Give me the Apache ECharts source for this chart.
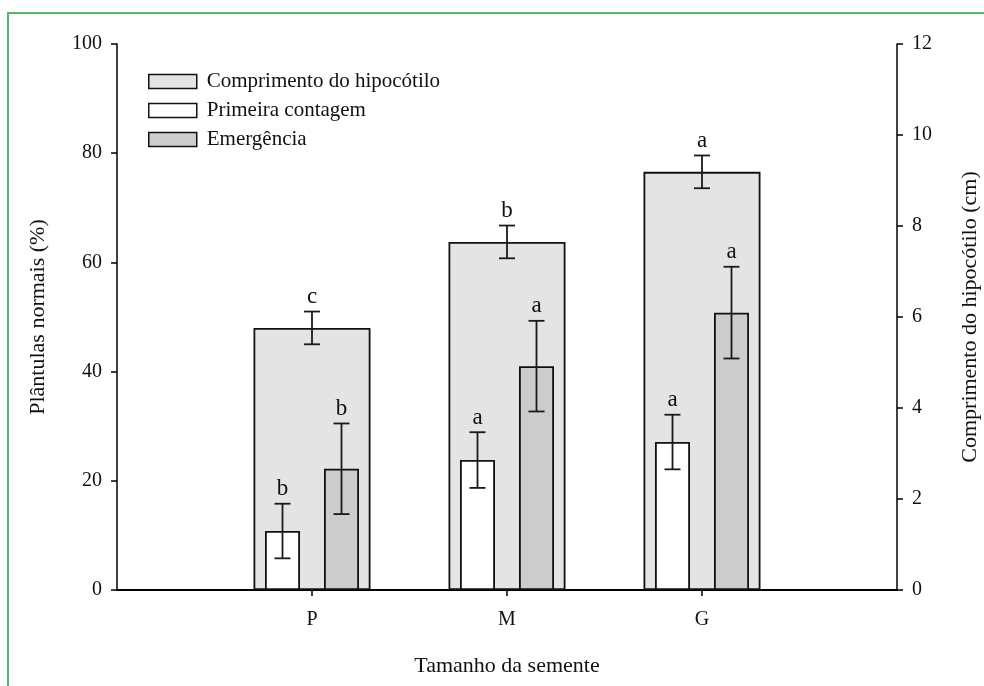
<!DOCTYPE html>
<html>
<head>
<meta charset="utf-8">
<script src="https://cdn.jsdelivr.net/npm/echarts@6/dist/echarts.min.js"></script>
<style>
html,body{margin:0;padding:0;background:#fff;}
#frame{position:absolute;left:7px;top:12px;width:977px;height:674px;border-top:2px solid #55b96c;border-left:2px solid #55b96c;}
#chart{position:absolute;left:0;top:0;width:984px;height:686px;}
</style>
</head>
<body>
<div id="frame"></div>
<div id="chart"></div>
<script>
const categories = ['', 'P', 'M', 'G', ''];
const seriesNames = ['Comprimento do hipocótilo', 'Primeira contagem', 'Emergência'];
// Comprimento do hipocótilo (cm), right axis
const hypocotyl = [null, 5.76, 7.65, 9.19, null];
const hypocotylErr = [null, 0.36, 0.36, 0.36, null];
const hypocotylLetters = ['', 'c', 'b', 'a', ''];
// Primeira contagem (%), left axis
const firstCount = [null, 10.8, 23.8, 27.1, null];
const firstCountErr = [null, 5.0, 5.1, 5.0, null];
const firstCountLetters = ['', 'b', 'a', 'a', ''];
// Emergência (%), left axis
const emergence = [null, 22.2, 41.0, 50.8, null];
const emergenceErr = [null, 8.3, 8.3, 8.4, null];
const emergenceLetters = ['', 'b', 'a', 'a', ''];
const leftTicks = {min: 0, max: 100, interval: 20};
const rightTicks = {min: 0, max: 12, interval: 2};

const FONT = '"Liberation Serif", "Times New Roman", serif';

function errData(vals, errs, letters) {
  return vals.map((v, i) => v == null ? null : [i, v, errs[i], letters[i]]).filter(d => d);
}

function errRender(offset, capW) {
  return function (params, api) {
    const i = api.value(0), v = api.value(1), e = api.value(2);
    const top = api.coord([i, v + e]);
    const bot = api.coord([i, v - e]);
    const x = top[0] + offset;
    const st = {stroke: '#1a1a1a', lineWidth: 1.8};
    return {
      type: 'group',
      children: [
        {type: 'line', shape: {x1: x, y1: top[1], x2: x, y2: bot[1]}, style: st},
        {type: 'line', shape: {x1: x - capW / 2, y1: top[1], x2: x + capW / 2, y2: top[1]}, style: st},
        {type: 'line', shape: {x1: x - capW / 2, y1: bot[1], x2: x + capW / 2, y2: bot[1]}, style: st},
        {type: 'text', style: {text: api.value(3), x: x, y: top[1] - 3, textAlign: 'center', textVerticalAlign: 'bottom',
          font: '23px ' + FONT, fill: '#111'}}
      ]
    };
  };
}

const chart = echarts.init(document.getElementById('chart'));
chart.setOption({
  animation: false,
  backgroundColor: 'transparent',
  grid: {left: 117, right: 87, top: 44, bottom: 96, containLabel: false, outerBoundsMode: 'none'},
  legend: {
    left: 148, top: 71, padding: 0, orient: 'vertical', itemWidth: 48, itemHeight: 14, itemGap: 8,
    icon: 'rect',
    data: seriesNames,
    itemStyle: {borderColor: '#111', borderWidth: 1.5},
    textStyle: {fontFamily: FONT, fontSize: 21, color: '#111', padding: [0, 0, 0, 5]},
    selectedMode: false
  },
  xAxis: [
    {type: 'category', data: categories, boundaryGap: false, position: 'bottom',
     axisLine: {lineStyle: {color: '#000', width: 2}},
     axisTick: {show: true, inside: false, length: 6, interval: function (i) { return i >= 1 && i <= 3; }, lineStyle: {color: '#000', width: 1.5}},
     axisLabel: {fontFamily: FONT, fontSize: 20, color: '#111', margin: 20, interval: 0},
     name: 'Tamanho da semente', nameLocation: 'middle', nameGap: 65,
     nameTextStyle: {fontFamily: FONT, fontSize: 22, color: '#111'},
     splitLine: {show: false}},
    {type: 'category', data: categories, boundaryGap: false, position: 'top',
     axisLine: {lineStyle: {color: '#000', width: 2}},
     axisTick: {show: false}, axisLabel: {show: false}, splitLine: {show: false}}
  ],
  yAxis: [
    {type: 'value', min: leftTicks.min, max: leftTicks.max, interval: leftTicks.interval, position: 'left',
     axisLine: {show: true, lineStyle: {color: '#000', width: 1.5}},
     axisTick: {show: true, inside: false, length: 6, lineStyle: {color: '#000', width: 1.5}},
     axisLabel: {fontFamily: FONT, fontSize: 20, color: '#111', margin: 15},
     splitLine: {show: false},
     name: 'Plântulas normais (%)', nameLocation: 'middle', nameGap: 68, nameRotate: 90,
     nameTextStyle: {fontFamily: FONT, fontSize: 22, color: '#111'}},
    {type: 'value', min: rightTicks.min, max: rightTicks.max, interval: rightTicks.interval, position: 'right',
     axisLine: {show: true, lineStyle: {color: '#000', width: 1.5}},
     axisTick: {show: true, inside: false, length: 6, lineStyle: {color: '#000', width: 1.5}},
     axisLabel: {fontFamily: FONT, fontSize: 20, color: '#111', margin: 15},
     splitLine: {show: false},
     name: 'Comprimento do hipocótilo (cm)', nameLocation: 'middle', nameGap: 62, nameRotate: 90,
     nameTextStyle: {fontFamily: FONT, fontSize: 22, color: '#111'}}
  ],
  series: [
    {name: seriesNames[0], type: 'bar', xAxisIndex: 1, yAxisIndex: 1, data: hypocotyl, barWidth: 117, z: 1,
     itemStyle: {color: '#e4e4e4', borderColor: '#111', borderWidth: 1.8}},
    {name: seriesNames[1], type: 'bar', xAxisIndex: 0, yAxisIndex: 0, data: firstCount, barWidth: 35, barGap: '68.6%', z: 3,
     itemStyle: {color: '#ffffff', borderColor: '#111', borderWidth: 1.8}},
    {name: seriesNames[2], type: 'bar', xAxisIndex: 0, yAxisIndex: 0, data: emergence, barWidth: 35, z: 3,
     itemStyle: {color: '#cccccc', borderColor: '#111', borderWidth: 1.8}},
    {type: 'custom', xAxisIndex: 1, yAxisIndex: 1, z: 5, renderItem: errRender(0, 16),
     data: errData(hypocotyl, hypocotylErr, hypocotylLetters), encode: {x: 0, y: 1}},
    {type: 'custom', xAxisIndex: 0, yAxisIndex: 0, z: 5, renderItem: errRender(-29.5, 16),
     data: errData(firstCount, firstCountErr, firstCountLetters), encode: {x: 0, y: 1}},
    {type: 'custom', xAxisIndex: 0, yAxisIndex: 0, z: 5, renderItem: errRender(29.5, 16),
     data: errData(emergence, emergenceErr, emergenceLetters), encode: {x: 0, y: 1}}
  ]
});
</script>
</body>
</html>
